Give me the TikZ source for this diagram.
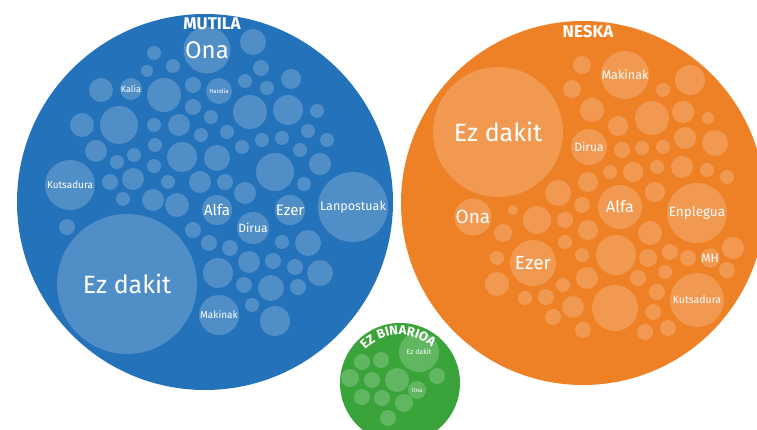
\documentclass[tikz,border=0pt]{standalone}
\usepackage{fontspec}
\setmainfont{Fira Sans}
\usepackage{tikz}
\usetikzlibrary{positioning,decorations.text}
\definecolor{mutila}{RGB}{36,114,186}
\definecolor{neska}{RGB}{238,128,38}
\definecolor{ezbin}{RGB}{58,164,58}
\newcommand{\fsz}[1]{\fontsize{#1}{#1}\selectfont}
\tikzset{bigball/.style={circle, inner sep=0pt, minimum size=#1*2pt}}
\tikzset{bub/.style={circle, inner sep=0pt, minimum size=#1*2pt, fill=white, fill opacity=0.2, text opacity=1, text=white}}
\tikzset{grouptitle/.style={text=white, inner sep=0pt, font=\bfseries\fsz{17}}}

\begin{document}
\begin{tikzpicture}[x=1pt, y=1pt]
    \useasboundingbox (0,0) rectangle (757,-430);
    \fill[white] (0,0) rectangle (757,-430);
    \clip (0,0) rectangle (757,-430);
    % taldeak
    \node[bigball=188, fill=mutila] (mutila) at (205,-202) {};
    \node[bigball=182, fill=neska] (neska) at (583,-203) {};
    \node[bigball=60, fill=ezbin] (ezbin) at (400,-383) {};
    \node[grouptitle, below=4pt of mutila.north, xshift=7pt] (mutilatit) {MUTILA};
    \node[grouptitle, below=4pt of neska.north, xshift=5pt] (neskatit) {NESKA};
    \path[decorate, decoration={text along path, text align=center,
            text={|\color{white}\bfseries\fsz{13}|EZ BINARIOA}}]
        ([shift={(145:48)}]ezbin.center) arc[start angle=145, end angle=40, radius=48];

    % mutila
    \node[bub=23, font=\fsz{24}] (mona) at (207,-50) {Ona};
    \node[bub=11, font=\fsz{9}] (mkalia) at (131,-89) {Kalia};
    \node[bub=13, font=\fsz{6}] (mhandia) at (219,-91) {Handia};
    \node[bub=25, font=\fsz{10}] (mkuts) at (70,-185) {Kutsadura};
    \node[bub=15, font=\fsz{15}] (malfa) at (217,-210) {Alfa};
    \node[bub=15, font=\fsz{15}] (mezer) at (290,-210) {Ezer};
    \node[bub=35, font=\fsz{12.5}] (mlanp) at (353,-207) {Lanpostuak};
    \node[bub=16, font=\fsz{12}] (mdirua) at (253,-228) {Dirua};
    \node[bub=70, font=\fsz{25}] (mezdakit) at (127,-284) {Ez dakit};
    \node[bub=20, font=\fsz{10}] (mmakinak) at (219,-315) {Makinak};
    \foreach \bx/\by/\br [count=\i] in {253/42/13,154/53/7,173/66/7,147/71/6,261/68/8,
        291/79/10,245/81/7,267/88/7,101/90/12,164/95/17,193/85/8,193/107/8,250/112/17,
        288/110/15,317/111/7,82/125/12,119/125/19,154/125/7,179/125/11,211/117/7,
        227/132/7,201/135/7,308/131/7,262/140/7,282/138/7,327/140/7,96/151/11,155/145/7,
        242/147/7,300/150/7,117/162/7,134/155/7,182/157/15,217/158/13,154/166/7,
        275/172/19,320/164/11,110/182/8,133/179/11,168/182/7,200/182/11,225/182/8,
        245/193/11,304/184/7,123/199/7,153/200/11,177/205/12,67/227/8,193/230/8,
        209/243/8,230/248/8,282/242/7,308/243/13,249/262/11,273/261/8,295/267/8,
        320/273/13,218/273/15,244/285/8,271/288/13,298/287/8,252/305/7,275/321/15}
        \node[bub=\br] (mb\i) at (\bx,-\by) {};

    % neska
    \node[bub=65, font=\fsz{25}] (nezdakit) at (498,-132) {Ez dakit};
    \node[bub=24, font=\fsz{12.5}] (nmakinak) at (625,-75) {Makinak};
    \node[bub=18, font=\fsz{12}] (ndirua) at (589,-147) {Dirua};
    \node[bub=22, font=\fsz{16}] (nalfa) at (620,-207) {Alfa};
    \node[bub=30, font=\fsz{13.5}] (nenplegua) at (697,-213) {Enplegua};
    \node[bub=17, font=\fsz{19}] (nona) at (473,-217) {Ona};
    \node[bub=23, font=\fsz{19}] (nezer) at (533,-263) {Ezer};
    \node[bub=9, font=\fsz{12}] (nmh) at (710,-258) {MH};
    \node[bub=27, font=\fsz{10.5}] (nkuts) at (697,-300) {Kutsadura};
    \foreach \bx/\by/\br [count=\i] in {582/65/9,572/89/9,592/110/12,618/126/10,
        652/118/17,663/90/7,690/80/15,683/112/11,708/118/6,622/150/8,642/148/7,
        663/147/7,685/138/11,715/143/13,610/172/7,633/172/10,657/167/7,682/167/11,
        707/170/7,727/177/7,588/182/10,558/193/13,655/192/10,582/205/8,513/210/5,
        537/220/14,565/220/8,503/233/9,588/230/10,565/242/7,650/233/12,497/258/7,
        582/255/7,616/255/20,648/258/9,670/252/8,688/258/8,733/248/11,727/270/8,
        665/272/7,638/278/8,587/278/11,563/285/7,497/284/12,546/297/8,525/298/7,
        573/307/11,615/308/23,657/292/8,653/312/8,553/317/8,583/330/8,645/332/8,
        668/328/8}
        \node[bub=\br] (nb\i) at (\bx,-\by) {};

    % ez binarioa
    \node[bub=20, font=\fsz{7}] (gezdakit) at (419,-352) {Ez dakit};
    \node[bub=9, font=\fsz{6}] (gona) at (417,-390) {Ona};
    \foreach \bx/\by/\br [count=\i] in {362/362/8,381/360/8,350/378/9,372/380/8,
        397/380/12,437/376/8,362/397/8,382/398/8,404/403/9,388/418/8}
        \node[bub=\br] (gb\i) at (\bx,-\by) {};
\end{tikzpicture}
\end{document}
